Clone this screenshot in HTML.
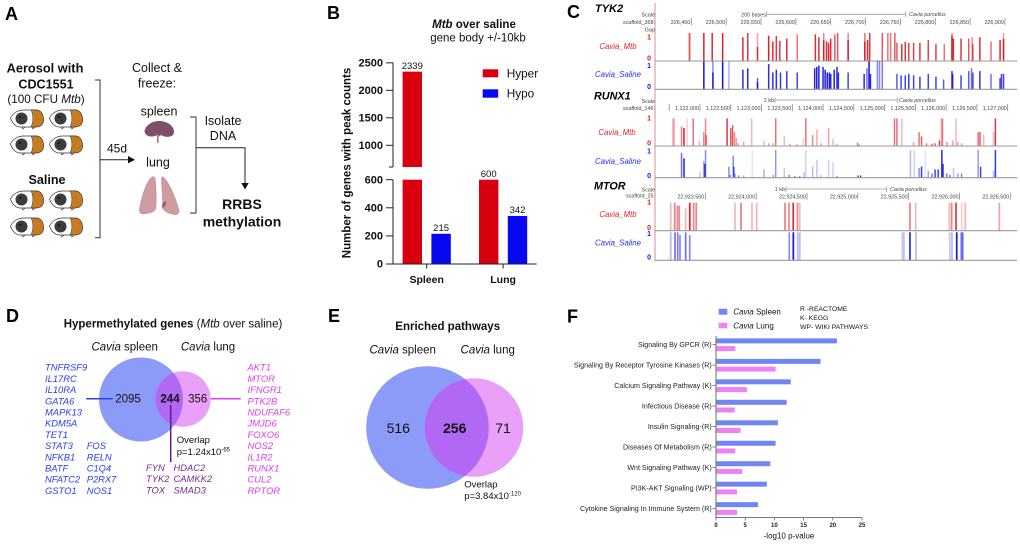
<!DOCTYPE html>
<html lang="en">
<head>
<meta charset="utf-8">
<title>Methylation figure</title>
<style>
html,body{margin:0;padding:0;background:#fff;}
svg{display:block;font-family:"Liberation Sans",Arial,sans-serif;}
.panel{font-size:18px;font-weight:bold;fill:#000;}
.t{fill:#111;}
.m{text-anchor:middle;}
.e{text-anchor:end;}
.g{font-size:9.4px;font-style:italic;}
</style>
</head>
<body>
<svg id="fig" width="1020" height="544" viewBox="0 0 1020 544">
<defs>
  <g id="pig">
    <path d="M0.5 9C3 4 8 1 14 1L26 1C31 1 33.5 5 33.5 11C33.5 16 30 18 25 18L10 18C6 18 2 14 0.5 9Z" fill="#fff" stroke="#333" stroke-width=".7"/>
    <path d="M21 1L26 1C31 1 33.5 5 33.5 11C33.5 16 30 18 25 18L21 18C23.5 12 23.5 6 21 1Z" fill="#c77a20" stroke="#333" stroke-width=".5"/>
    <circle cx="11.5" cy="9.5" r="6" fill="#3c3c3c"/>
    <circle cx="10" cy="8" r="1" fill="#111"/>
    <path d="M12 18l1 2 2-2M22 18l1 2 2-2" fill="none" stroke="#333" stroke-width=".6"/>
  </g>
  <clipPath id="venn-d-clip"><circle cx="141" cy="399.5" r="42"/></clipPath>
  <clipPath id="venn-e-clip"><circle cx="427.5" cy="427.5" r="61.3"/></clipPath>
</defs>

<!-- Panel A -->
<text class="panel" x="5" y="20">A</text>
<text class="t m" x="45" y="72.5" font-size="12.8" font-weight="bold">Aerosol with</text>
<text class="t m" x="46" y="88.5" font-size="12.6" font-weight="bold">CDC1551</text>
<text class="t m" x="46" y="103" font-size="11.7">(100 CFU <tspan font-style="italic">Mtb</tspan>)</text>
<text class="t m" x="47" y="184" font-size="12.6" font-weight="bold">Saline</text>
<g id="pigs"></g>
<path d="M95 80H100V237.7H95" fill="none" stroke="#333" stroke-width="1"/>
<path d="M100 159.7H129" stroke="#222" stroke-width="1"/>
<path d="M128 156L135 159.7L128 163.4Z" fill="#111"/>
<text class="t m" x="117" y="152.7" font-size="12">45d</text>
<text class="t m" x="157" y="72" font-size="12.5">Collect &amp;</text>
<text class="t m" x="157" y="87.5" font-size="12.5">freeze:</text>
<text class="t m" x="159" y="115.5" font-size="12.5">spleen</text>
<text class="t m" x="158" y="166.5" font-size="12.5">lung</text>
<g>
  <path d="M144.5 131C146 124 154 120.5 160 121C168 121.5 174 126 174 132C174 136.5 168 138 163 136C160 134.5 158 135 155 136C150 137.5 145 136 144.5 131Z" fill="#7c5066"/>
  <path d="M158 143V135M159 136L155 132M159 136L163 133" stroke="#b04a6a" stroke-width="1" fill="none"/>
  <path d="M157.5 142V136" stroke="#4a6ac0" stroke-width=".7"/>
</g>
<g>
  <path d="M152 177C147 180 142 195 139.5 209C139 213 141 214 144 214C150 213 156 212 156 207C156.5 197 156 185 155 178C154.5 176.5 153 176.5 152 177Z" fill="#cf9ba0" stroke="#ba8489" stroke-width=".5"/>
  <path d="M163 177C168 180 175 196 179 210C179.5 214 177 215 174 214.5C169 213.5 164 212 162 207C163.5 203 161.5 188 161.5 179C161.5 177 162 176.5 163 177Z" fill="#cf9ba0" stroke="#ba8489" stroke-width=".5"/>
  <path d="M162 207C163 202 165 200 166 202C166 205 165 208 162 207Z" fill="#9a5a66"/>
</g>
<path d="M190 117H196V213H190" fill="none" stroke="#333" stroke-width="1"/>
<path d="M196 147.7H245V184" fill="none" stroke="#222" stroke-width="1"/>
<path d="M241.3 183L245 189.5L248.7 183Z" fill="#111"/>
<text class="t m" x="223" y="125" font-size="12.5">Isolate</text>
<text class="t m" x="223" y="140" font-size="12.5">DNA</text>
<text class="t m" x="242" y="209" font-size="14" font-weight="bold">RRBS</text>
<text class="t m" x="242" y="226.5" font-size="14" font-weight="bold">methylation</text>

<!-- Panel B -->
<text class="panel" x="327" y="19">B</text>
<text class="t m" x="474" y="28" font-size="11.5" font-weight="bold"><tspan font-style="italic">Mtb</tspan> over saline</text>
<text class="t m" x="478" y="41.5" font-size="11.5">gene body +/-10kb</text>
<text class="t m" transform="translate(350.5 163) rotate(-90)" font-size="11.5" font-weight="bold">Number of genes with peak counts</text>
<g id="chart-b"></g>
<rect x="482.7" y="69.3" width="15.5" height="8" fill="#d8000f"/>
<text class="t" x="506.7" y="77.5" font-size="11.8">Hyper</text>
<rect x="482.7" y="89.3" width="15.5" height="8.4" fill="#0808f0"/>
<text class="t" x="506.7" y="97.5" font-size="11.8">Hypo</text>

<!-- Panel C -->
<text class="panel" x="567" y="18">C</text>
<text x="595" y="12" font-size="11" font-weight="bold" font-style="italic">TYK2</text>
<text x="594" y="99.5" font-size="10.8" font-weight="bold" font-style="italic">RUNX1</text>
<text x="594" y="189.5" font-size="10.8" font-weight="bold" font-style="italic">MTOR</text>
<path d="M655 3V261" stroke="#e8b4b4" stroke-width="1.5"/>
<g id="tracks"></g>
<g font-size="7.8" font-style="italic" text-anchor="middle">
  <text x="618" y="49" fill="#e8222c">Cavia_Mtb</text>
  <text x="618" y="77" fill="#2a2af0">Cavia_Saline</text>
  <text x="617" y="135" fill="#e8222c">Cavia_Mtb</text>
  <text x="618" y="164" fill="#2a2af0">Cavia_Saline</text>
  <text x="618" y="217" fill="#e8222c">Cavia_Mtb</text>
  <text x="618" y="245.7" fill="#2a2af0">Cavia_Saline</text>
</g>
<g font-size="5.4" fill="#444">
  <text class="e" x="655" y="16.3">Scale</text>
  <text class="e" x="655" y="24">scaffold_368:</text>
  <text class="e" x="655" y="31.3">Gap</text>
  <text class="e" x="766" y="16.3">200 bases</text>
  <path d="M766.7 14.3H905.7M766.7 11.5V17M905.7 11.5V17" stroke="#999" stroke-width=".8" fill="none"/>
  <text x="909" y="16" font-style="italic">Cavia porcellus</text>
  <text class="e" x="655" y="103">Scale</text>
  <text class="e" x="655" y="110">scaffold_146:</text>
  <text class="e" x="774" y="102">2 kb</text>
  <path d="M775 100H897.3M775 97.5V103M897.3 97.5V103" stroke="#999" stroke-width=".8" fill="none"/>
  <text x="899" y="102" font-style="italic">Cavia porcellus</text>
  <path d="M669.2 104V111" stroke="#777" stroke-width=".7"/>
  <text class="e" x="655" y="191.7">Scale</text>
  <text class="e" x="655" y="197.3">scaffold_25:</text>
  <text class="e" x="785" y="191">1 kb</text>
  <path d="M786 189H886.7M786 186.5V192M886.7 186.5V192" stroke="#999" stroke-width=".8" fill="none"/>
  <text x="890" y="191" font-style="italic">Cavia porcellus</text>
</g>

<!-- Panel D -->
<text class="panel" x="6" y="322">D</text>
<text class="t m" x="173" y="327.3" font-size="11.5"><tspan font-weight="bold">Hypermethylated genes</tspan> (<tspan font-style="italic">Mtb</tspan> over saline)</text>
<text class="t m" x="124.7" y="350.7" font-size="11.5"><tspan font-style="italic">Cavia</tspan> spleen</text>
<text class="t m" x="208" y="350.7" font-size="11.5"><tspan font-style="italic">Cavia</tspan> lung</text>
<circle cx="141" cy="399.5" r="42" fill="#8c9bf7"/>
<circle cx="183" cy="399" r="27.7" fill="#e8a0f8"/>
<circle cx="183" cy="399" r="27.7" fill="#b169f5" clip-path="url(#venn-d-clip)"/>
<path d="M86.3 398.7H112.7" stroke="#2a40f5" stroke-width="1.5"/>
<path d="M210.7 398.7H240.7" stroke="#e23cf0" stroke-width="1.5"/>
<path d="M170.7 405V462" stroke="#6a1a80" stroke-width="1.5"/>
<text class="t m" x="128" y="402.7" font-size="11.5">2095</text>
<text class="t m" x="170" y="402.7" font-size="11.5" font-weight="bold">244</text>
<text class="t m" x="197.7" y="402.7" font-size="11.5">356</text>
<text class="t" x="176.7" y="443" font-size="9.5">Overlap</text>
<text class="t" x="176.7" y="455" font-size="9.5">p=1.24x10<tspan font-size="6" dy="-3.5">-65</tspan></text>
<g class="g" fill="#2a3df2">
  <text x="45" y="370.7"><tspan x="45">TNFRSF9</tspan><tspan x="45" dy="11.2">IL17RC</tspan><tspan x="45" dy="11.2">IL10RA</tspan><tspan x="45" dy="11.2">GATA6</tspan><tspan x="45" dy="11.2">MAPK13</tspan><tspan x="45" dy="11.2">KDM5A</tspan><tspan x="45" dy="11.2">TET1</tspan><tspan x="45" dy="11.2">STAT3</tspan><tspan x="45" dy="11.2">NFKB1</tspan><tspan x="45" dy="11.2">BATF</tspan><tspan x="45" dy="11.2">NFATC2</tspan><tspan x="45" dy="11.2">GSTO1</tspan></text>
  <text x="86.7" y="449.1"><tspan x="86.7">FOS</tspan><tspan x="86.7" dy="11.2">RELN</tspan><tspan x="86.7" dy="11.2">C1Q4</tspan><tspan x="86.7" dy="11.2">P2RX7</tspan><tspan x="86.7" dy="11.2">NOS1</tspan></text>
</g>
<g class="g" fill="#7a2a90">
  <text x="146" y="471"><tspan x="146">FYN</tspan><tspan x="146" dy="11.2">TYK2</tspan><tspan x="146" dy="11.2">TOX</tspan></text>
  <text x="173.5" y="471"><tspan x="173.5">HDAC2</tspan><tspan x="173.5" dy="11.2">CAMKK2</tspan><tspan x="173.5" dy="11.2">SMAD3</tspan></text>
</g>
<text class="g" fill="#e03ff0" x="247.5" y="370.7"><tspan x="247.5">AKT1</tspan><tspan x="247.5" dy="11.2">MTOR</tspan><tspan x="247.5" dy="11.2">IFNGR1</tspan><tspan x="247.5" dy="11.2">PTK2B</tspan><tspan x="247.5" dy="11.2">NDUFAF6</tspan><tspan x="247.5" dy="11.2">JMJD6</tspan><tspan x="247.5" dy="11.2">FOXO6</tspan><tspan x="247.5" dy="11.2">NOS2</tspan><tspan x="247.5" dy="11.2">IL1R2</tspan><tspan x="247.5" dy="11.2">RUNX1</tspan><tspan x="247.5" dy="11.2">CUL2</tspan><tspan x="247.5" dy="11.2">RPTOR</tspan></text>

<!-- Panel E -->
<text class="panel" x="328" y="322">E</text>
<text class="t m" x="447.7" y="330" font-size="11.5" font-weight="bold">Enriched pathways</text>
<text class="t m" x="402.7" y="353.3" font-size="11.5"><tspan font-style="italic">Cavia</tspan> spleen</text>
<text class="t m" x="487.7" y="353.3" font-size="11.5"><tspan font-style="italic">Cavia</tspan> lung</text>
<circle cx="427.5" cy="427.5" r="61.3" fill="#8c9bf7"/>
<circle cx="474" cy="427.5" r="49.3" fill="#e8a0f8"/>
<circle cx="474" cy="427.5" r="49.3" fill="#b169f5" clip-path="url(#venn-e-clip)"/>
<text class="t m" x="398.3" y="433" font-size="14">516</text>
<text class="t m" x="454.7" y="433" font-size="14" font-weight="bold">256</text>
<text class="t m" x="503" y="433" font-size="14">71</text>
<text class="t" x="464.3" y="487.5" font-size="9.5">Overlap</text>
<text class="t" x="464.3" y="499" font-size="9.5">p=3.84x10<tspan font-size="6" dy="-3.5">-120</tspan></text>

<!-- Panel F -->
<text class="panel" x="567" y="322.5">F</text>
<rect x="718.7" y="308.7" width="8.6" height="6" fill="#7286f2"/>
<rect x="718.7" y="322.7" width="8.6" height="5.5" fill="#ee82f5"/>
<text class="t" x="733.3" y="314.7" font-size="8"><tspan font-style="italic">Cavia</tspan> Spleen</text>
<text class="t" x="733.3" y="328.3" font-size="8"><tspan font-style="italic">Cavia</tspan> Lung</text>
<g class="t" font-size="6.8">
  <text x="800" y="311">R -REACTOME</text>
  <text x="800" y="320">K- KEGG</text>
  <text x="800" y="329">WP- WIKI PATHWAYS</text>
</g>
<g id="chart-f"></g>
<text class="t m" x="789" y="538.5" font-size="8">-log10 p-value</text>

<script>
/* Panel B data */
const sites = ['Spleen', 'Lung'];
const hyperCounts = [2339, 600];
const hypoCounts = [215, 342];
const upperTicks = [1000, 1500, 2000, 2500];
const lowerTicks = [0, 200, 400, 600];

/* Panel F data */
const pathways = ['Signaling By GPCR (R)', 'Signaling By Receptor Tyrosine Kinases (R)', 'Calcium Signaling Pathway (K)', 'Infectious Disease (R)', 'Insulin Signaling-(R)', 'Diseases Of Metabolism (R)', 'Wnt Signaling Pathway (K)', 'PI3K-AKT Signaling (WP)', 'Cytokine Signaling In Immune System (R)'];
const spleenScores = [20.7, 17.9, 12.8, 12.1, 10.6, 10.2, 9.3, 8.7, 7.2];
const lungScores = [3.3, 10.2, 5.3, 3.2, 4.2, 3.3, 4.5, 3.6, 3.6];
const scoreTicks = [0, 5, 10, 15, 20, 25];

/* Panel C data: position, methylation level, read depth */
const tyk2Ticks = [226450, 226500, 226550, 226600, 226650, 226700, 226750, 226800, 226850, 226900];
const tyk2MtbPos = [226447,226448,226468,226480,226495,226524,226531,226545,226545,226561,226567,226572,226577,226587,226602,226628,226633,226640,226640,226644,226647,226650,226656,226660,226675,226675,226699,226699,226703,226706,226724,226732,226736,226742,226745,226752,226757,226762,226769,226778,226790,226801,226813,226824,226824,226826,226837,226848,226853,226854,226864,226880,226893,226898,226898];
const tyk2MtbVal = [1,1,1,1,1,.85,1,1,.5,.9,.7,.9,.72,.8,.95,.95,.85,1,.75,.7,.65,.8,.95,1,1,.75,1,.7,.75,1,1,1,1,1,.65,.6,.68,.65,.65,.65,.75,.6,.6,1,.9,.8,.8,.8,.85,.6,.85,.7,.75,1,.8];
const tyk2MtbDepth = [.5,.5,.95,.9,.95,.9,.85,.4,.8,.95,.9,.85,.85,.9,.6,.9,.9,.5,.9,.9,.9,.9,.7,.7,.5,.9,.6,.9,.9,.85,.7,.6,.6,.7,.7,.9,.85,.8,.8,.85,.8,.8,.6,.5,.9,.9,.85,.7,.5,.7,.9,.6,.9,.4,.9];
const tyk2SalinePos = [226468,226481,226481,226495,226504,226524,226531,226545,226545,226561,226567,226572,226578,226587,226602,226627,226630,226633,226639,226642,226645,226648,226650,226655,226659,226661,226675,226698,226702,226705,226707,226717,226720,226724,226745,226751,226757,226762,226769,226778,226790,226801,226812,226824,226825,226837,226848,226852,226854,226864,226880,226893,226895,226898];
const tyk2SalineVal = [1,1,.6,1,1,.7,.75,.4,.25,.9,.6,.7,.6,.65,.6,.75,.8,.85,.8,.7,.6,.6,.55,.7,.8,.6,.6,.55,.75,1,.55,1,1,1,.55,.5,.5,.55,.5,.45,.55,.45,.35,.65,.55,.5,.65,.75,.6,.65,.55,.4,.55,.55];
const tyk2SalineDepth = [1,.5,.9,1,.35,.9,.9,.7,.95,.9,.9,.9,.85,.85,.8,.95,.95,.95,.95,.95,.95,.95,.95,.95,.9,.9,.8,.9,.6,1,.95,.5,.5,.55,.7,.8,.8,.85,.8,.85,.8,.8,.7,.9,.9,.8,.7,.6,.8,.85,.6,.8,.8,.8];

const runx1Ticks = [1122000,1122500,1123000,1123500,1124000,1124500,1125000,1125500,1126000,1126500,1127000];
const runx1MtbPos = [1121560,1121580,1121700,1121740,1121790,1121890,1121990,1122060,1122090,1122100,1122440,1122500,1122530,1122560,1122590,1122620,1122710,1122840,1123040,1123120,1123190,1123230,1123370,1123460,1123570,1123680,1123720,1123830,1123900,1123970,1124090,1124160,1124220,1124560,1124590,1125160,1125200,1125280,1125470,1125560,1125600,1125680,1125770,1125820,1125890,1125920,1125940,1126010,1126110,1126160,1126190,1126250,1126520,1126550,1126610,1126770,1126800];
const runx1MtbVal = [1,1,.7,.65,1,1,.2,.5,1,.4,1,.65,.75,.5,.3,.1,.15,1,.2,.1,.1,1,.35,.08,.07,.3,1,.4,.6,.1,.65,.25,.08,.12,.06,1,1,1,.15,.5,.35,.1,.08,.1,.2,1,1,.15,.2,1,.15,.1,.5,.5,.4,.5,1];
const runx1MtbDepth = [.35,.35,.55,.95,.2,.6,.3,.5,.5,.6,.85,.7,.7,.5,.4,.4,.4,.3,.3,.4,.4,.6,.3,.4,.4,.2,.6,.5,.35,.4,.4,.3,.4,.6,.5,.6,.6,.3,.4,.6,.7,.6,.7,.7,.8,.3,.6,.5,.4,.3,.4,.4,.6,.7,.3,.3,.85];
const runx1SalinePos = [1121700,1121740,1122000,1122060,1122080,1122090,1122470,1122490,1122540,1122550,1122570,1122630,1122710,1122850,1123040,1123190,1123230,1123370,1123450,1123540,1123620,1123690,1123720,1123830,1123900,1123960,1124090,1124160,1124230,1124570,1124610,1125420,1125480,1125560,1125600,1125660,1125710,1125770,1125820,1125870,1125930,1125950,1126010,1126060,1126120,1126190,1126250,1126520,1126560,1126770,1126800];
const runx1SalineVal = [.9,.7,.2,.6,.5,1,.4,.1,.8,.4,.15,.08,.08,1,.3,.1,1,.35,.1,.05,.05,.2,1,.4,.65,.1,.65,.55,.05,.08,.08,1,1,.35,.4,1,.25,.15,.3,.3,1,.5,.15,.1,.35,.15,.15,1,.4,.25,1];
const runx1SalineDepth = [.6,.95,.25,.4,.9,.5,.5,.5,.5,.7,.4,.5,.4,.12,.35,.4,.45,.25,.6,.7,.7,.3,.2,.3,.25,.3,.2,.2,.6,.8,.8,.3,.2,.5,.85,.12,.4,.6,.8,.8,.9,.8,.6,.6,.25,.4,.5,.45,.8,.3,.85];

const mtorTicks = [22923500,22924000,22924500,22925000,22925500,22926000,22926500];
const mtorMtbPos = [22923160,22923199,22923225,22923244,22923307,22923347,22923386,22923411,22923792,22923851,22923959,22924006,22924284,22924323,22924365,22924407,22924429,22925513,22925569,22925900,22925923,22925966,22926022,22926057,22926392];
const mtorMtbVal = [1,1,.9,.9,.8,1,1,1,1,1,1,1,1,1,1,1,1,1,1,1,1,1,1,1,1];
const mtorMtbDepth = [.3,.55,.5,.5,.3,.95,.5,.5,.3,.55,.3,.3,.55,.5,.9,.5,.3,.55,.3,.3,.55,.85,.2,.3,.4];
const mtorSalinePos = [22923160,22923202,22923229,22923251,22923307,22923347,22924326,22924366,22924409,22924429,22925438,22925454,22925513,22925572,22925904,22925926,22925973,22926018,22926032];
const mtorSalineVal = [1,1,1,.9,1,.9,1,1,1,1,1,1,1,1,1,1,1,1,1];
const mtorSalineDepth = [.3,.6,.55,.5,.6,.5,.5,1,.3,.3,.25,.25,.9,.3,.25,.3,1,.6,.6];

const svgNS = 'http://www.w3.org/2000/svg';
function make(parent, tag, attrs, text) {
  const el = document.createElementNS(svgNS, tag);
  for (const k in attrs) el.setAttribute(k, attrs[k]);
  if (text !== undefined) el.textContent = text;
  parent.appendChild(el);
  return el;
}

/* Guinea pigs */
(function () {
  const g = document.getElementById('pigs');
  [[10, 109], [49, 109], [10, 135], [49, 135], [10, 190], [49, 190], [10, 217], [49, 217]].forEach(function (p) {
    const u = make(g, 'use', { href: '#pig', x: p[0], y: p[1] });
    
    
  });
})();

/* Panel B */
(function () {
  const g = document.getElementById('chart-b');
  const axisX = 393, breakValue = 605;
  const yLower = function (v) { return 264 - v * 84.3 / 600; };
  const yUpper = function (v) { return 145.3 - (v - 1000) * 0.055; };
  const xGroup = function (i) { return 426.7 + 76.4 * i; };
  const barW = 19.4, offset = 14.4;

  function drawBar(value, cx, color, name) {
    const base = yLower(0);
    const lowTop = yLower(Math.min(value, 600));
    const low = make(g, 'rect', { x: cx - barW / 2, y: lowTop, width: barW, height: base - lowTop, fill: color });
    
    
    let top = lowTop;
    if (value > breakValue) {
      top = yUpper(value);
      const up = make(g, 'rect', { x: cx - barW / 2, y: top, width: barW, height: yUpper(breakValue) - top, fill: color });
      
      
    }
    const lab = make(g, 'text', { x: cx, y: top - 2.8, 'text-anchor': 'middle', 'font-size': 9.5, fill: '#111' }, String(value));
    
    
  }

  sites.forEach(function (s, i) {
    const key = s.toLowerCase();
    drawBar(hyperCounts[i], xGroup(i) - offset, '#d8000f', 'bar-' + key + '-hyper');
    drawBar(hypoCounts[i], xGroup(i) + offset, '#0808f0', 'bar-' + key + '-hypo');
    const tick = make(g, 'path', { d: 'M' + xGroup(i) + ' 264V268.5', stroke: '#222', 'stroke-width': 1 });
    
    
    const lab = make(g, 'text', { x: xGroup(i), y: 283, 'text-anchor': 'middle', 'font-size': 10.5, 'font-weight': 'bold', fill: '#111' }, s);
    
    
  });

  const axis = make(g, 'path', { d: 'M' + axisX + ' ' + yUpper(2500) + 'V' + yUpper(breakValue) + 'M' + axisX + ' ' + yLower(600) + 'V' + yLower(0) + 'H536.7', fill: 'none', stroke: '#222', 'stroke-width': 1 });
  
  
  const brk = make(g, 'path', { d: 'M389 ' + yUpper(breakValue) + 'H' + axisX, stroke: '#222', 'stroke-width': 1 });
  
  

  function yTick(v, y) {
    const t = make(g, 'path', { d: 'M386 ' + y + 'H' + axisX, stroke: '#222', 'stroke-width': 1 });
    
    
    const l = make(g, 'text', { x: 383, y: y + 3.7, 'text-anchor': 'end', 'font-size': 11, 'font-weight': 'bold', fill: '#111' }, String(v));
    
    
  }
  upperTicks.forEach(function (v) { yTick(v, yUpper(v)); });
  lowerTicks.forEach(function (v) { yTick(v, yLower(v)); });
})();

/* Panel C */
function drawTrack(opts) {
  const g = make(document.getElementById('tracks'), 'g', {});
  
  
  const xs = function (p) { return opts.x0 + (p - opts.p0) * opts.scale; };
  const ys = function (v) { return opts.base - v * (opts.base - opts.top); };
  opts.pos.forEach(function (p, i) {
    const y = ys(opts.val[i]);
    const r = make(g, 'rect', { x: xs(p) - opts.w / 2, y: y, width: opts.w, height: opts.base - y, fill: opts.color, opacity: opts.depth[i] });
    
    
  });
  const line = make(g, 'path', { d: 'M655 ' + opts.base + 'H' + opts.end, stroke: '#999', 'stroke-width': 1.1 });
  
  
  [[1, opts.y1], [0, opts.y0]].forEach(function (a) {
    const t = make(g, 'text', { x: 651, y: a[1] + 2.5, 'text-anchor': 'end', 'font-size': 7, 'font-weight': 'bold', fill: opts.color }, String(a[0]));
    
    
  });
}
function drawRuler(ticks, x0, p0, scale, yLabel) {
  const g = make(document.getElementById('tracks'), 'g', {});
  
  
  ticks.forEach(function (p) {
    const x = x0 + (p - p0) * scale;
    const m = make(g, 'path', { d: 'M' + x + ' ' + (yLabel - 6) + 'V' + (yLabel + 1), stroke: '#777', 'stroke-width': .7 });
    
    
    const t = make(g, 'text', { x: x - 1, y: yLabel, 'text-anchor': 'end', 'font-size': 5.4, fill: '#444' }, p.toLocaleString('en-US'));
    
    
  });
}
const redPeak = '#d8141e', bluePeak = '#1414e6';
drawRuler(tyk2Ticks, 691.3, 226450, 0.697, 24);
drawTrack({ name: 'tyk2-mtb-track', pos: tyk2MtbPos, val: tyk2MtbVal, depth: tyk2MtbDepth, x0: 691.3, p0: 226450, scale: 0.697, base: 61, top: 33, color: redPeak, w: 1.5, end: 1017, y1: 37, y0: 58 });
drawTrack({ name: 'tyk2-saline-track', pos: tyk2SalinePos, val: tyk2SalineVal, depth: tyk2SalineDepth, x0: 691.3, p0: 226450, scale: 0.697, base: 89.3, top: 61.3, color: bluePeak, w: 1.5, end: 1017, y1: 65.7, y0: 86.7 });
drawRuler(runx1Ticks, 700, 1122000, 0.06154, 110);
drawTrack({ name: 'runx1-mtb-track', pos: runx1MtbPos, val: runx1MtbVal, depth: runx1MtbDepth, x0: 700, p0: 1122000, scale: 0.06154, base: 146, top: 118.3, color: redPeak, w: 1.5, end: 1017, y1: 118, y0: 143 });
drawTrack({ name: 'runx1-saline-track', pos: runx1SalinePos, val: runx1SalineVal, depth: runx1SalineDepth, x0: 700, p0: 1122000, scale: 0.06154, base: 177.7, top: 150, color: bluePeak, w: 1.5, end: 1017, y1: 151, y0: 175.7 });
drawRuler(mtorTicks, 705.3, 22923500, 0.10167, 198.7);
drawTrack({ name: 'mtor-mtb-track', pos: mtorMtbPos, val: mtorMtbVal, depth: mtorMtbDepth, x0: 705.3, p0: 22923500, scale: 0.10167, base: 230.7, top: 202.7, color: redPeak, w: 1.7, end: 1017, y1: 202, y0: 227.7 });
drawTrack({ name: 'mtor-saline-track', pos: mtorSalinePos, val: mtorSalineVal, depth: mtorSalineDepth, x0: 705.3, p0: 22923500, scale: 0.10167, base: 260.3, top: 232.3, color: bluePeak, w: 1.7, end: 1017, y1: 233.3, y0: 257 });

/* Panel F */
(function () {
  const g = document.getElementById('chart-f');
  const xs = function (v) { return 716 + v * 5.84; };
  const yc = function (i) { return 344.6 + i * 20.47; };
  pathways.forEach(function (name, i) {
    const a = make(g, 'rect', { x: xs(0), y: yc(i) - 6.2, width: xs(spleenScores[i]) - xs(0), height: 5, fill: '#7286f2' });
    
    
    const b = make(g, 'rect', { x: xs(0), y: yc(i) + 1.5, width: xs(lungScores[i]) - xs(0), height: 5, fill: '#ee82f5' });
    
    
    const t = make(g, 'path', { d: 'M712.5 ' + yc(i) + 'H716', stroke: '#666', 'stroke-width': .8 });
    
    
    const l = make(g, 'text', { x: 711.7, y: yc(i) + 2.6, 'text-anchor': 'end', 'font-size': 7.1, fill: '#222' }, name);
    
    
  });
  const axis = make(g, 'path', { d: 'M716 336V517.5H' + xs(25), fill: 'none', stroke: '#777', 'stroke-width': 1.1 });
  
  
  scoreTicks.forEach(function (v) {
    const t = make(g, 'path', { d: 'M' + xs(v) + ' 517.5V520.5', stroke: '#666', 'stroke-width': .8 });
    
    
    const l = make(g, 'text', { x: xs(v), y: 527, 'text-anchor': 'middle', 'font-size': 6, 'font-weight': 'bold', fill: '#222' }, String(v));
    
    
  });
})();
</script>
</svg>
</body>
</html>
